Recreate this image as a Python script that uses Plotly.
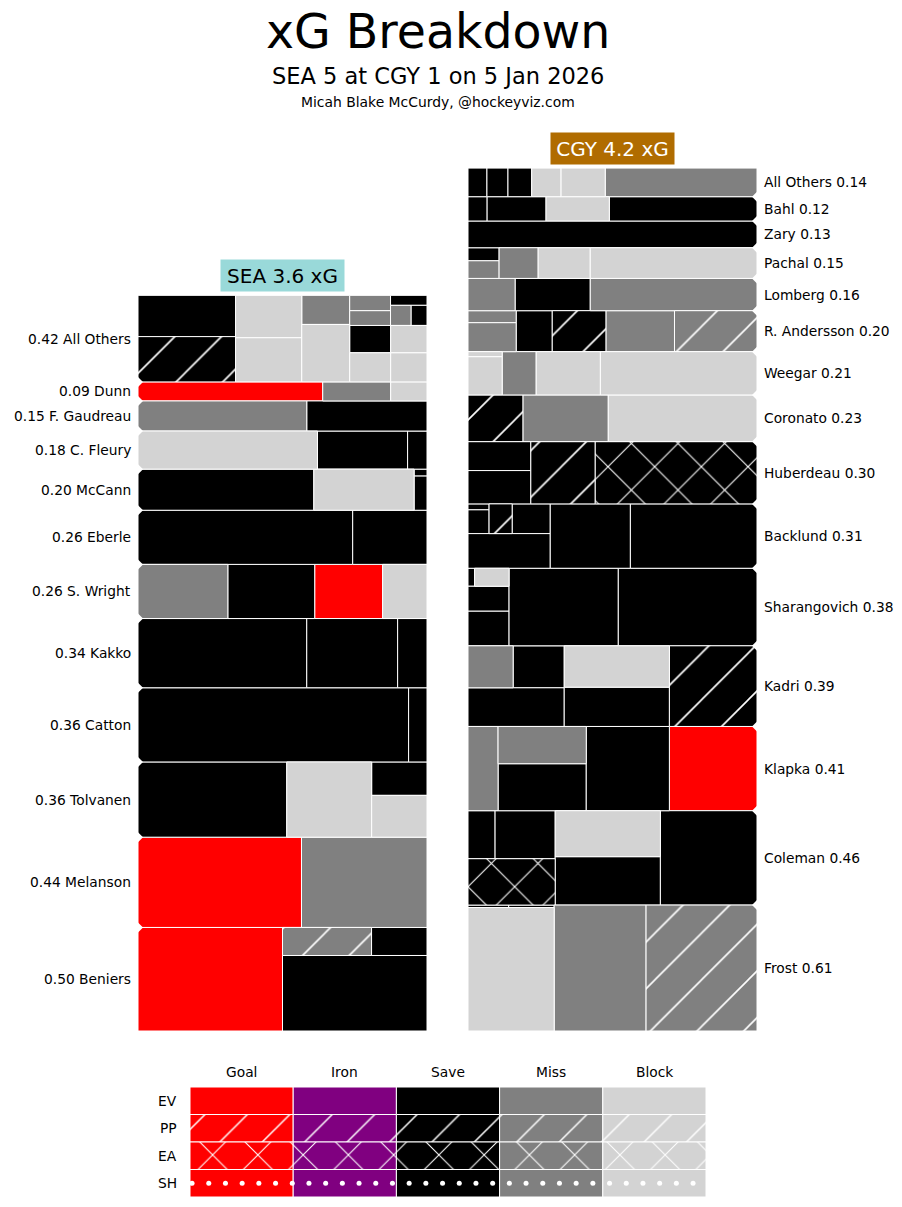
import plotly.graph_objects as go

# ---------------- data ----------------
title_text = "xG Breakdown"
subtitle_text = "SEA 5 at CGY 1 on 5 Jan 2026"
byline_text = "Micah Blake McCurdy, @hockeyviz.com"
away_team = "SEA"
home_team = "CGY"

outcomes = ["Goal", "Iron", "Save", "Miss", "Block"]
strengths = ["EV", "PP", "EA", "SH"]

# players listed top -> bottom; shot trees: ("h"/"v", children...) split nodes,
# leaves are (xG, outcome, strength)
sea_players = ["All Others", "Dunn", "F. Gaudreau", "C. Fleury", "McCann", "Eberle",
               "S. Wright", "Kakko", "Catton", "Tolvanen", "Melanson", "Beniers"]
sea_xg = [0.42, 0.09, 0.15, 0.18, 0.20, 0.26, 0.26, 0.34, 0.36, 0.36, 0.44, 0.50]
sea_shots = [
    ["h",
     ["v", (0.0675, "Save", "EV"), (0.0741, "Save", "PP")],
     ["v", (0.0471, "Block", "EV"), (0.0490, "Block", "EV")],
     ["v", (0.0234, "Miss", "EV"), (0.0462, "Block", "EV")],
     ["v",
      ["h", ["v", (0.0105, "Miss", "EV"), (0.0101, "Miss", "EV")],
            ["v", (0.0061, "Save", "EV"), ["h", (0.0069, "Miss", "EV"), (0.0054, "Save", "EV")]]],
      ["h", ["v", (0.0188, "Save", "EV"), (0.0200, "Block", "EV")],
            ["v", (0.0167, "Block", "EV"), (0.0177, "Block", "EV")]]]],
    ["h", (0.0590, "Goal", "EV"), (0.0217, "Miss", "EV"), (0.0116, "Block", "EV")],
    ["h", (0.0852, "Miss", "EV"), (0.0607, "Save", "EV")],
    ["h", (0.1147, "Block", "EV"), (0.0576, "Save", "EV"), (0.0124, "Save", "EV")],
    ["h", (0.1212, "Save", "EV"), (0.0691, "Block", "EV"),
     ["v", (0.0015, "Save", "EV"), (0.0074, "Save", "EV")]],
    ["h", (0.1950, "Save", "EV"), (0.0675, "Save", "EV")],
    ["h", (0.0816, "Miss", "EV"), (0.0789, "Save", "EV"), (0.0617, "Goal", "EV"), (0.0403, "Block", "EV")],
    ["h", (0.1959, "Save", "EV"), (0.1055, "Save", "EV"), (0.0341, "Save", "EV")],
    ["h", (0.3368, "Save", "EV"), (0.0229, "Save", "EV")],
    ["h", (0.1877, "Save", "EV"), (0.1071, "Block", "EV"),
     ["v", (0.0310, "Save", "EV"), (0.0388, "Block", "EV")]],
    ["h", (0.2475, "Goal", "EV"), (0.1900, "Miss", "EV")],
    ["h", (0.2510, "Goal", "EV"),
     ["v", ["h", (0.0419, "Miss", "PP"), (0.0261, "Save", "EV")], (0.1830, "Save", "EV")]],
]

cgy_players = ["All Others", "Bahl", "Zary", "Pachal", "Lomberg", "R. Andersson", "Weegar",
               "Coronato", "Huberdeau", "Backlund", "Sharangovich", "Kadri", "Klapka",
               "Coleman", "Frost"]
cgy_xg = [0.14, 0.12, 0.13, 0.15, 0.16, 0.20, 0.21, 0.23, 0.30, 0.31, 0.38, 0.39, 0.41, 0.46, 0.61]
cgy_shots = [
    ["h", (0.0091, "Save", "EV"), (0.0101, "Save", "EV"), (0.0114, "Save", "EV"),
     (0.0141, "Block", "EV"), (0.0212, "Block", "EV"), (0.0729, "Miss", "EV")],
    ["h", (0.0078, "Save", "EV"), (0.0240, "Save", "EV"), (0.0258, "Block", "EV"), (0.0602, "Save", "EV")],
    (0.1296, "Save", "EV"),
    ["h", ["v", (0.0068, "Save", "EV"), (0.0092, "Miss", "EV")],
     (0.0201, "Miss", "EV"), (0.0268, "Block", "EV"), (0.0858, "Block", "EV")],
    ["h", (0.0255, "Miss", "EV"), (0.0407, "Save", "EV"), (0.0903, "Miss", "EV")],
    ["h", ["v", (0.0097, "Miss", "EV"), (0.0234, "Miss", "EV")],
     (0.0248, "Save", "EV"), (0.0370, "Save", "PP"), (0.0470, "Miss", "EV"), (0.0567, "Miss", "PP")],
    ["h", ["v", (0.0029, "Block", "EV"), (0.0219, "Block", "EV")],
     (0.0247, "Miss", "EV"), (0.0466, "Block", "EV"), (0.1137, "Block", "EV")],
    ["h", (0.0431, "Save", "PP"), (0.0667, "Miss", "EV"), (0.1164, "Block", "EV")],
    ["h", ["v", (0.0305, "Save", "EV"), (0.0351, "Save", "EV")],
     (0.0673, "Save", "PP"), (0.1689, "Save", "EA")],
    ["h", ["v", ["h", ["v", (0.0021, "Save", "EV"), (0.0084, "Save", "EV")],
                 (0.0115, "Save", "PP"), (0.0190, "Save", "EV")],
           (0.0478, "Save", "EV")],
     (0.0865, "Save", "EV"), (0.1367, "Save", "EV")],
    ["h", ["v", ["h", (0.0020, "Save", "EV"), (0.0104, "Block", "EV")],
           (0.0172, "Save", "EV"), (0.0238, "Save", "EV")],
     (0.1421, "Save", "EV"), (0.1804, "Save", "EV")],
    ["h", ["v", ["h", (0.0318, "Miss", "EV"), (0.0360, "Save", "EV")], (0.0624, "Save", "EV")],
     ["v", (0.0730, "Block", "EV"), (0.0693, "Save", "EV")],
     (0.1185, "Save", "PP")],
    ["h", (0.0425, "Miss", "EV"), ["v", (0.0551, "Miss", "EV"), (0.0695, "Save", "EV")],
     (0.1175, "Save", "EV"), (0.1238, "Goal", "EV")],
    ["h", ["v", ["h", (0.0218, "Save", "EV"), (0.0484, "Save", "EV")], (0.0678, "Save", "EA")],
     ["v", (0.0811, "Block", "EV"), (0.0854, "Save", "EV")],
     (0.1529, "Save", "EV")],
    ["h", ["v", ["h", (0.0017, "Save", "EV"), (0.0019, "Save", "EV")], (0.1784, "Block", "EV")],
     (0.1941, "Miss", "EV"), (0.2343, "Miss", "PP")],
]

# ---------------- style ----------------
W, H = 902, 1207
FONT = "DejaVu Sans"
outcome_colors = {"Goal": "#ff0000", "Iron": "#800080", "Save": "#000000",
                  "Miss": "#808080", "Block": "#d3d3d3"}
pattern_shape = {"EV": "", "PP": "/", "EA": "x", "SH": ""}
panel_psize = {"EV": 8, "PP": 33, "EA": 33, "SH": 8}
legend_psize = {"EV": 8, "PP": 30, "EA": 32, "SH": 8}
pattern_solidity = {"EV": 0.3, "PP": 0.05, "EA": 0.065, "SH": 0.3}
team_box = {"SEA": ("#99d9d9", "black"), "CGY": ("#b06c00", "white")}

PX_PER_XG = 206.3
BOTTOM_PX = 1031.0
sea_px = (138, 427)
cgy_px = (468, 757)
leg_px_x = (190, 706)
leg_px_y = (1087, 1197)
ymin = -(H - BOTTOM_PX) / PX_PER_XG
ymax = BOTTOM_PX / PX_PER_XG
CH = 5.0  # chamfer size in px


def px_x(p):
    return p / W


def px_y(p):
    return 1 - p / H


def total(node):
    if isinstance(node, tuple):
        return node[0]
    return sum(total(c) for c in node[1:])


def place(node, x0, x1, y0, y1, out):
    if isinstance(node, tuple):
        out.append((x0, x1, y0, y1, node[1], node[2]))
        return
    kids = node[1:]
    s = total(node)
    if node[0] == "h":
        x = x0
        for k in kids:
            w = (x1 - x0) * total(k) / s
            place(k, x, x + w, y0, y1, out)
            x += w
    else:
        y = y1
        for k in kids:
            h = (y1 - y0) * total(k) / s
            place(k, x0, x1, y - h, y, out)
            y -= h


def build(shots):
    rects, bands = [], []
    base = 0.0
    for tree in reversed(shots):
        s = total(tree)
        place(tree, 0.0, 1.0, base, base + s, rects)
        bands.append((base, base + s))
        base += s
    bands.reverse()
    return rects, bands, base


def bar_traces(rects, xa, ya, psize):
    traces = []
    for oc in outcomes:
        for st in strengths:
            rs = [r for r in rects if r[4] == oc and r[5] == st]
            if not rs:
                continue
            col = outcome_colors[oc]
            marker = dict(color=col, opacity=1, line=dict(color="white", width=1))
            if pattern_shape[st]:
                marker["pattern"] = dict(shape=pattern_shape[st], fgcolor="white", bgcolor=col,
                                         size=psize[st], solidity=pattern_solidity[st],
                                         fillmode="replace")
            traces.append(go.Bar(
                x=[(r[0] + r[1]) / 2 for r in rs],
                width=[r[1] - r[0] for r in rs],
                base=[r[2] for r in rs],
                y=[r[3] - r[2] for r in rs],
                xaxis=xa, yaxis=ya, marker=marker,
                hoverinfo="skip", showlegend=False))
    return traces


sea_rects, sea_bands, sea_total = build(sea_shots)
cgy_rects, cgy_bands, cgy_total = build(cgy_shots)

fig = go.Figure()
for t in bar_traces(sea_rects, "x", "y", panel_psize):
    fig.add_trace(t)
for t in bar_traces(cgy_rects, "x2", "y", panel_psize):
    fig.add_trace(t)

# legend grid
leg_rects = []
for j, st in enumerate(strengths):
    for i, oc in enumerate(outcomes):
        leg_rects.append((i, i + 1, j, j + 1, oc, st))
for t in bar_traces(leg_rects, "x3", "y3", legend_psize):
    fig.add_trace(t)

# SH row: dotted hatch
cell_w_px = (leg_px_x[1] - leg_px_x[0]) / len(outcomes)
dot_step = 16.7 / cell_w_px
dot_x = []
k = 0
while 0.02 + k * dot_step < len(outcomes):
    dot_x.append(0.02 + k * dot_step)
    k += 1
sh_row = strengths.index("SH")
fig.add_trace(go.Scatter(x=dot_x, y=[sh_row + 0.5] * len(dot_x), xaxis="x3", yaxis="y3",
                         mode="markers", marker=dict(color="white", size=5, line=dict(width=0)),
                         hoverinfo="skip", showlegend=False, cliponaxis=True))

shapes = []
annotations = []

# chamfer notches at band boundaries on outer edges
dx_sea = CH / (sea_px[1] - sea_px[0])
dx_cgy = CH / (cgy_px[1] - cgy_px[0])
dy = CH / PX_PER_XG
for (b0, b1) in sea_bands:
    if b0 > 0:
        shapes.append(dict(type="path", xref="x", yref="y",
                           path=f"M 0,{b0 + dy} L {dx_sea},{b0} L 0,{b0 - dy} Z",
                           fillcolor="white", line=dict(width=0), layer="above"))
for (b0, b1) in cgy_bands:
    if b0 > 0:
        shapes.append(dict(type="path", xref="x2", yref="y",
                           path=f"M 1,{b0 + dy} L {1 - dx_cgy},{b0} L 1,{b0 - dy} Z",
                           fillcolor="white", line=dict(width=0), layer="above"))

# player labels
for name, xg, (b0, b1) in zip(sea_players, sea_xg, sea_bands):
    annotations.append(dict(xref="x", yref="y", x=0, y=(b0 + b1) / 2, xanchor="right",
                            yanchor="middle", xshift=-5, showarrow=False,
                            text=f"{xg:.2f} {name}", font=dict(family=FONT, size=13.8, color="black")))
for name, xg, (b0, b1) in zip(cgy_players, cgy_xg, cgy_bands):
    annotations.append(dict(xref="x2", yref="y", x=1, y=(b0 + b1) / 2, xanchor="left",
                            yanchor="middle", xshift=5, showarrow=False,
                            text=f"{name} {xg:.2f}", font=dict(family=FONT, size=13.8, color="black")))

# team boxes
for team, xa, tot in [(away_team, "x", sea_total), (home_team, "x2", cgy_total)]:
    bg, fg = team_box[team]
    annotations.append(dict(xref=xa, yref="y", x=0.5, y=tot, xanchor="center", yanchor="bottom",
                            yshift=3, showarrow=False, text=f"{team} {tot:.1f} xG",
                            bgcolor=bg, borderpad=4, width=115, height=23,
                            font=dict(family=FONT, size=20, color=fg)))

# titles
for txt, ypx, sz in [(title_text, 32, 47.4), (subtitle_text, 76, 22.5), (byline_text, 102, 13.9)]:
    annotations.append(dict(xref="paper", yref="paper", x=px_x(437.5), y=px_y(ypx), xanchor="center",
                            yanchor="middle", showarrow=False, text=txt,
                            font=dict(family=FONT, size=sz, color="black")))

# legend labels
for i, oc in enumerate(outcomes):
    annotations.append(dict(xref="x3", yref="paper", x=i + 0.5, y=px_y(1072), xanchor="center",
                            yanchor="middle", showarrow=False, text=oc,
                            font=dict(family=FONT, size=13.8, color="black")))
for j, st in enumerate(strengths):
    annotations.append(dict(xref="paper", yref="y3", x=px_x(179), y=j + 0.5, xanchor="right",
                            yanchor="middle", showarrow=False, text=st,
                            font=dict(family=FONT, size=13.8, color="black")))

hidden = dict(visible=False, fixedrange=True)
fig.update_layout(
    width=W, height=H, margin=dict(l=0, r=0, t=0, b=0),
    paper_bgcolor="white", plot_bgcolor="white",
    barmode="overlay", showlegend=False,
    xaxis=dict(domain=[sea_px[0] / W, sea_px[1] / W], range=[0, 1], anchor="y", **hidden),
    xaxis2=dict(domain=[cgy_px[0] / W, cgy_px[1] / W], range=[0, 1], anchor="y", **hidden),
    yaxis=dict(domain=[0, 1], range=[ymin, ymax], anchor="x", **hidden),
    xaxis3=dict(domain=[leg_px_x[0] / W, leg_px_x[1] / W], range=[0, 5], anchor="y3", **hidden),
    yaxis3=dict(domain=[1 - leg_px_y[1] / H, 1 - leg_px_y[0] / H], range=[4, 0], anchor="x3", **hidden),
    shapes=shapes, annotations=annotations,
)

fig.write_html("out.html", config={"displayModeBar": False},
               post_script="document.body.style.margin='0';document.body.style.overflow='hidden';")
